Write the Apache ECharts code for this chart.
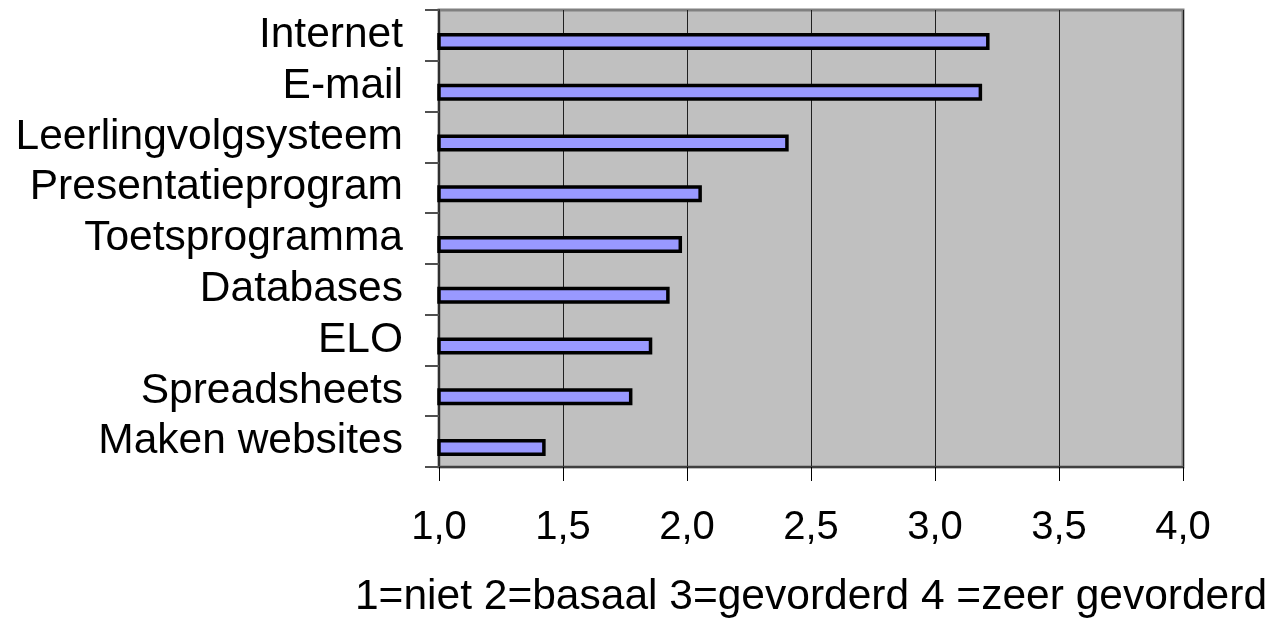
<!DOCTYPE html>
<html>
<head>
<meta charset="utf-8">
<title>ICT-vaardigheden</title>
<script src="https://cdn.jsdelivr.net/npm/echarts@6/dist/echarts.min.js"></script>
<style>
  html, body { margin: 0; padding: 0; background: #ffffff; }
  #chart { width: 1271px; height: 629px; }
</style>
</head>
<body>
<div id="chart"></div>
<script>
// Toepassingen, van boven naar beneden
const categories = [
  'Internet', 'E-mail', 'Leerlingvolgsysteem', 'Presentatieprogram',
  'Toetsprogramma', 'Databases', 'ELO', 'Spreadsheets', 'Maken websites'
];
// Gemiddeld niveau per toepassing (schaal 1-4)
const niveau = [3.22, 3.19, 2.41, 2.06, 1.98, 1.93, 1.86, 1.78, 1.43];
// Schaal van de waarde-as
const schaalMin = 1.0;
const schaalMax = 4.0;
const schaalStap = 0.5;
const asTitel = '1=niet 2=basaal 3=gevorderd 4 =zeer gevorderd';

const font = '"Liberation Sans", Arial, sans-serif';

const chart = echarts.init(document.getElementById('chart'), null, { renderer: 'canvas' });

chart.setOption({
  animation: false,
  backgroundColor: '#ffffff',
  grid: {
    left: 439, right: 88, top: 10, bottom: 162,
    show: true,
    backgroundColor: '#c0c0c0',
    borderColor: '#808080',
    borderWidth: 3
  },
  xAxis: {
    type: 'value',
    min: schaalMin,
    max: schaalMax,
    interval: schaalStap,
    name: asTitel,
    nameLocation: 'middle',
    nameGap: 130,
    nameTextStyle: { fontFamily: font, fontSize: 42.5, color: '#000', verticalAlign: 'middle' },
    axisLine: { show: true, lineStyle: { color: '#404040', width: 2 } },
    axisTick: { show: true, length: 14, lineStyle: { color: '#000', width: 1 } },
    axisLabel: {
      margin: 61,
      verticalAlign: 'middle',
      fontFamily: font, fontSize: 40, color: '#000',
      formatter: v => v.toFixed(1).replace('.', ',')
    },
    splitLine: { show: true, lineStyle: { color: '#202020', width: 1 } }
  },
  yAxis: {
    type: 'category',
    data: categories,
    inverse: true,
    axisLine: { show: true, lineStyle: { color: '#303030', width: 2 } },
    axisTick: { show: true, length: 14, alignWithLabel: false, lineStyle: { color: '#505050', width: 2 } },
    axisLabel: { interval: 0, margin: 36, fontFamily: font, fontSize: 42.5, color: '#000' },
    splitLine: { show: false }
  },
  series: [
    {
      // lege reeks die de ruimte boven de balk inneemt
      name: 'ruimte',
      type: 'bar',
      data: [],
      barWidth: 12,
      barGap: 0,
      itemStyle: { color: 'transparent' }
    },
    {
      name: 'Niveau',
      type: 'bar',
      data: niveau,
      barWidth: 17,
      barGap: 0,
      itemStyle: { color: '#9999ff', borderColor: '#000000', borderWidth: 3.5 }
    }
  ]
});
</script>
</body>
</html>
